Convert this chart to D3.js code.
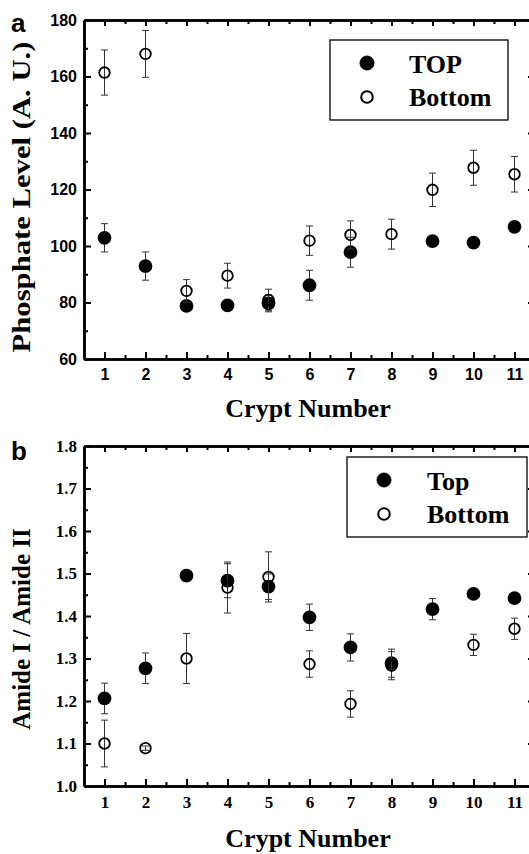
<!DOCTYPE html>
<html>
<head>
<meta charset="utf-8">
<script src="https://cdn.jsdelivr.net/npm/d3@7"></script>
<style>
  body { margin: 0; background: #fff; }
  svg { display: block; }
</style>
</head>
<body>
<div id="chart"></div>
<script>
// Crypt numbers on the x axis
const crypts = [1, 2, 3, 4, 5, 6, 7, 8, 9, 10, 11];

// Panel a: phosphate level (null = no point drawn)
const phosTop = [102.9, 92.9, 78.8, 79.0, 79.7, 86.1, 97.8, null, 101.7, 101.2, 106.8];
const phosTopErr = [5.0, 5.0, 1.0, 1.0, 3.0, 5.3, 5.3, null, 1.0, 1.0, 1.0];
const phosBottom = [161.4, 168.0, 84.1, 89.5, 80.9, 101.9, 103.9, 104.2, 119.9, 127.7, 125.4];
const phosBottomErr = [8.0, 8.3, 4.0, 4.4, 3.8, 5.2, 5.0, 5.3, 5.9, 6.2, 6.3];
const phosTicks = [60, 80, 100, 120, 140, 160, 180];

// Panel b: amide I / amide II ratio
const amideTop = [1.206, 1.277, 1.495, 1.483, 1.469, 1.397, 1.326, 1.289, 1.416, 1.452, 1.442];
const amideTopErr = [0.036, 0.036, 0.004, 0.04, 0.03, 0.031, 0.032, 0.033, 0.025, 0.004, 0.004];
const amideBottom = [1.100, 1.089, 1.300, 1.467, 1.492, 1.287, 1.193, 1.283, null, 1.332, 1.370];
const amideBottomErr = [0.055, 0.005, 0.059, 0.06, 0.059, 0.031, 0.031, 0.033, null, 0.025, 0.025];
const amideTicks = [1.0, 1.1, 1.2, 1.3, 1.4, 1.5, 1.6, 1.7, 1.8];

const width = 529, height = 854;
const serif = "'Liberation Serif', 'Times New Roman', serif";
const sans = "'Liberation Sans', Arial, sans-serif";

const svg = d3.select("#chart")
  .append("svg")
  .attr("width", width)
  .attr("height", height);

const x = d3.scaleLinear().domain([0.5, 11.5]).range([84, 535]);
const minorX = d3.range(1.5, 11, 1);

function drawPanel(cfg) {
  const y = d3.scaleLinear().domain(cfg.domain).range([cfg.bottom, cfg.top]);
  const g = svg.append("g");
  const step = cfg.ticks[1] - cfg.ticks[0];
  const minorY = cfg.ticks.slice(0, -1).map(t => t + step / 2);

  // bottom axis with labels
  g.append("g")
    .attr("transform", `translate(0,${cfg.bottom})`)
    .call(d3.axisBottom(x).tickValues(crypts).tickSize(-7).tickSizeOuter(0).tickPadding(10))
    .call(a => a.selectAll("text").style("font-family", cfg.tickFont).style("font-weight", "bold")
      .style("font-size", cfg.tickSize + "px").attr("fill", "#000"));
  g.append("g")
    .attr("transform", `translate(0,${cfg.bottom})`)
    .call(d3.axisBottom(x).tickValues(minorX).tickSize(-4).tickSizeOuter(0).tickFormat(""));

  // top axis, no labels
  g.append("g")
    .attr("transform", `translate(0,${cfg.top})`)
    .call(d3.axisTop(x).tickValues(crypts).tickSize(-6).tickSizeOuter(0).tickFormat(""));
  g.append("g")
    .attr("transform", `translate(0,${cfg.top})`)
    .call(d3.axisTop(x).tickValues(minorX).tickSize(-4).tickSizeOuter(0).tickFormat(""));

  // left axis with labels
  g.append("g")
    .attr("transform", `translate(84,0)`)
    .call(d3.axisLeft(y).tickValues(cfg.ticks).tickSize(-7).tickSizeOuter(0).tickPadding(7)
      .tickFormat(cfg.fmt))
    .call(a => a.selectAll("text").style("font-family", cfg.tickFont).style("font-weight", "bold")
      .style("font-size", cfg.tickSize + "px").attr("fill", "#000"));
  g.append("g")
    .attr("transform", `translate(84,0)`)
    .call(d3.axisLeft(y).tickValues(minorY).tickSize(-4).tickSizeOuter(0).tickFormat(""));

  // right axis (mostly off-page)
  g.append("g")
    .attr("transform", `translate(535,0)`)
    .call(d3.axisRight(y).tickValues(cfg.ticks).tickSize(-7).tickSizeOuter(0).tickFormat(""));

  g.selectAll(".domain").attr("stroke", "#000").attr("stroke-width", 2.5);
  g.selectAll(".tick line").attr("stroke", "#000").attr("stroke-width", 2);

  // series: filled then open
  const series = [
    { vals: cfg.topVals, errs: cfg.topErrs, fill: "#000" },
    { vals: cfg.botVals, errs: cfg.botErrs, fill: "none" }
  ];
  series.forEach(s => {
    const pts = crypts.map((c, i) => ({ c, v: s.vals[i], e: s.errs[i] })).filter(d => d.v != null);
    const eb = g.append("g").attr("stroke", "#333").attr("stroke-width", 1);
    eb.selectAll(".bar").data(pts).enter().append("line")
      .attr("x1", d => x(d.c)).attr("x2", d => x(d.c))
      .attr("y1", d => y(d.v - d.e)).attr("y2", d => y(d.v + d.e));
    [-1, 1].forEach(sg => {
      eb.selectAll(".cap" + sg).data(pts).enter().append("line")
        .attr("x1", d => x(d.c) - 3.5).attr("x2", d => x(d.c) + 3.5)
        .attr("y1", d => y(d.v + sg * d.e)).attr("y2", d => y(d.v + sg * d.e));
    });
    g.append("g").selectAll("circle").data(pts).enter().append("circle")
      .attr("cx", d => x(d.c)).attr("cy", d => y(d.v))
      .attr("r", s.fill === "none" ? 5.3 : 6)
      .attr("fill", s.fill).attr("stroke", "#000").attr("stroke-width", 1.8);
  });

  // legend
  const L = cfg.legend;
  g.append("rect").attr("x", L.x).attr("y", L.y).attr("width", L.w).attr("height", L.h)
    .attr("fill", "#fff").attr("stroke", "#000").attr("stroke-width", 1.3);
  g.append("circle").attr("cx", L.mx).attr("cy", L.y + 23).attr("r", 7)
    .attr("fill", "#000").attr("stroke", "#000").attr("stroke-width", 1);
  g.append("circle").attr("cx", L.mx).attr("cy", L.y + 57).attr("r", 5.8)
    .attr("fill", "none").attr("stroke", "#000").attr("stroke-width", 2);
  g.append("text").attr("x", L.tx).attr("y", L.y + 33).text(L.names[0])
    .style("font-family", serif).style("font-weight", "bold").style("font-size", "26px");
  g.append("text").attr("x", L.tx).attr("y", L.y + 66).text(L.names[1])
    .style("font-family", serif).style("font-weight", "bold").style("font-size", "26px");

  // titles
  g.append("text").attr("x", 308).attr("y", cfg.titleY).attr("text-anchor", "middle")
    .style("font-family", serif).style("font-weight", "bold").style("font-size", "26px")
    .text("Crypt Number");
  const yl = g.append("text").attr("transform", `translate(30,${cfg.ylabelY}) rotate(-90)`)
    .attr("text-anchor", "middle")
    .style("font-family", serif).style("font-weight", "bold").style("font-size", cfg.ylabelSize + "px")
    .text(cfg.ylabel);
  if (cfg.ylabelLen) yl.attr("textLength", cfg.ylabelLen).attr("lengthAdjust", "spacingAndGlyphs");
  g.append("text").attr("x", 11).attr("y", cfg.letterY)
    .style("font-family", sans).style("font-weight", "bold").style("font-size", "26px")
    .text(cfg.letter);
}

drawPanel({
  domain: [60, 180], top: 20, bottom: 359, ticks: phosTicks, fmt: d3.format("d"),
  tickFont: sans, tickSize: 16,
  topVals: phosTop, topErrs: phosTopErr, botVals: phosBottom, botErrs: phosBottomErr,
  legend: { x: 330, y: 40, w: 178, h: 80, mx: 367, tx: 409, names: ["TOP", "Bottom"] },
  ylabel: "Phosphate Level (A. U.)", ylabelY: 197, ylabelSize: 26, ylabelLen: 311,
  letter: "a", letterY: 32, titleY: 417
});

drawPanel({
  domain: [1.0, 1.8], top: 446, bottom: 786, ticks: amideTicks, fmt: d3.format(".1f"),
  tickFont: serif, tickSize: 17,
  topVals: amideTop, topErrs: amideTopErr, botVals: amideBottom, botErrs: amideBottomErr,
  legend: { x: 347, y: 457, w: 180, h: 80, mx: 384, tx: 427, names: ["Top", "Bottom"] },
  ylabel: "Amide I / Amide II", ylabelY: 629, ylabelSize: 25, ylabelLen: null,
  letter: "b", letterY: 460, titleY: 847
});
</script>
</body>
</html>
